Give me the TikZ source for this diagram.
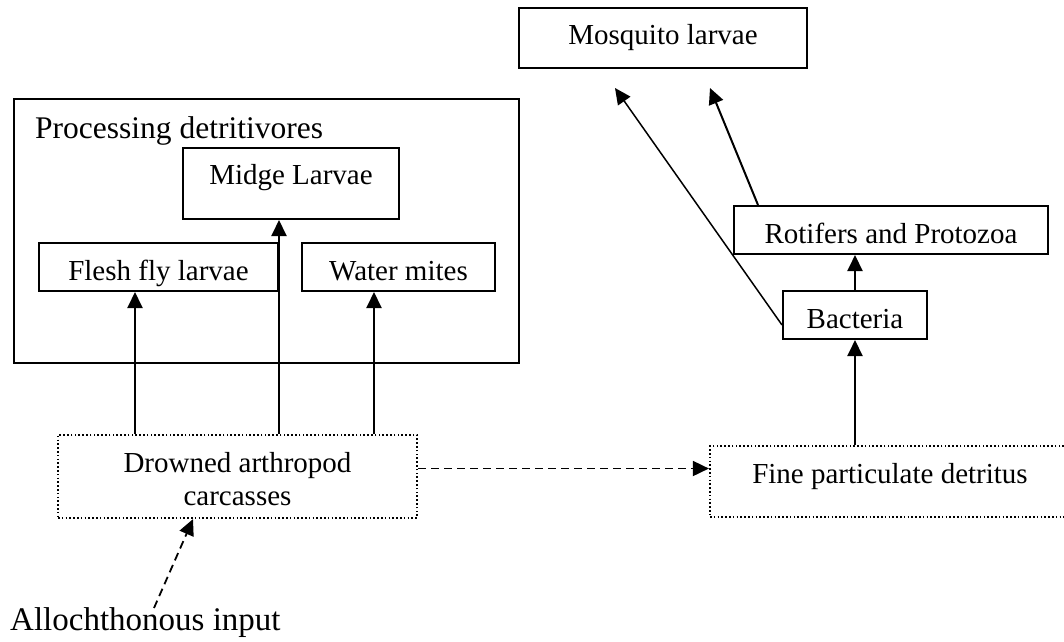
\documentclass[tikz,border=0pt]{standalone}
\usepackage{fontspec}
\setmainfont{Liberation Serif}
\usetikzlibrary{arrows.meta,calc}
\tikzset{
  box/.style={draw, line width=2pt, rectangle, inner xsep=0pt, inner ysep=0pt, align=center, font=\fontsize{29}{33}\selectfont},
  dotbox/.style={box, line width=2.2pt, dash pattern=on 1.6pt off 2.2pt},
  arr/.style={line width=2pt, -{Triangle[length=16pt,width=15pt]}},
  thin arr/.style={line width=1.5pt, -{Triangle[length=16pt,width=15pt]}},
  dash arr/.style={line width=1.8pt, dash pattern=on 8pt off 5pt, -{Triangle[length=16pt,width=15pt]}},
}
\begin{document}
\begin{tikzpicture}[x=1pt,y=-1pt]
\useasboundingbox (0,0) rectangle (1064,641);
\clip (0,0) rectangle (1064,641);
% outer group
\node[box, minimum width=505pt, minimum height=264pt] (pd) at (266.5,231) {};
\node[anchor=base west, inner sep=0pt, font=\fontsize{31.5}{36}\selectfont] (pdt) at (35,138) {Processing detritivores};
\node[box, minimum width=216pt, text height=36pt, text depth=35pt] (mi) at (291,183.5) {Midge Larvae};
\node[box, minimum width=239pt, text height=37pt, text depth=11pt] (fl) at (158.5,267) {Flesh fly larvae};
\node[box, minimum width=193pt, text height=37pt, text depth=11pt] (wm) at (398.5,267) {Water mites};
% right side
\node[box, minimum width=288pt, text height=36pt, text depth=24pt] (mo) at (663,38) {Mosquito larvae};
\node[box, minimum width=314pt, text height=37pt, text depth=11pt] (ro) at (891,230) {Rotifers and Protozoa};
\node[box, minimum width=144pt, text height=37pt, text depth=11pt] (ba) at (855,315) {Bacteria};
% dotted boxes
\node[dotbox, minimum width=359pt, minimum height=83pt] (dr) at (237.5,476.5) {};
\node[inner sep=0pt, align=center, font=\fontsize{29}{33}\selectfont, anchor=base] (drt) at (237.5,505) {Drowned arthropod\\carcasses};
\node[dotbox, minimum width=360pt, text height=37pt, text depth=34pt] (fi) at (890,481.5) {Fine particulate detritus};
\node[anchor=base west, inner sep=0pt, font=\fontsize{33}{38}\selectfont] (al) at (10,630) {Allochthonous input};
% connectors
\coordinate (fx) at ($(fl.south)+(-23.5,0)$);
\coordinate (wx) at ($(wm.south)+(-24.5,0)$);
\draw[arr] (fx |- dr.north) -- (fx);
\draw[arr] (fl.south east |- dr.north) -- (fl.south east |- mi.south);
\draw[arr] (wx |- dr.north) -- (wx);
\coordinate (dstart) at ($(dr.east)+(0,-8)$);
\draw[dash arr] (dstart) -- (fi.west |- dstart);
\coordinate (astart) at ($(al.base west)+(144,-22)$);
\draw[dash arr] (astart) -- ($(dr.south)+(-44.5,0)$);
\draw[arr] (ba.south |- fi.north) -- (ba.south);
\draw[arr] (ba.north) -- (ba.north |- ro.south);
\draw[thin arr] ($(ba.west)+(0,10)$) -- ($(mo.south)+(-48,19)$);
\draw[arr] ($(ro.north west)+(25,0)$) -- ($(mo.south)+(47,19)$);
\end{tikzpicture}
\end{document}
